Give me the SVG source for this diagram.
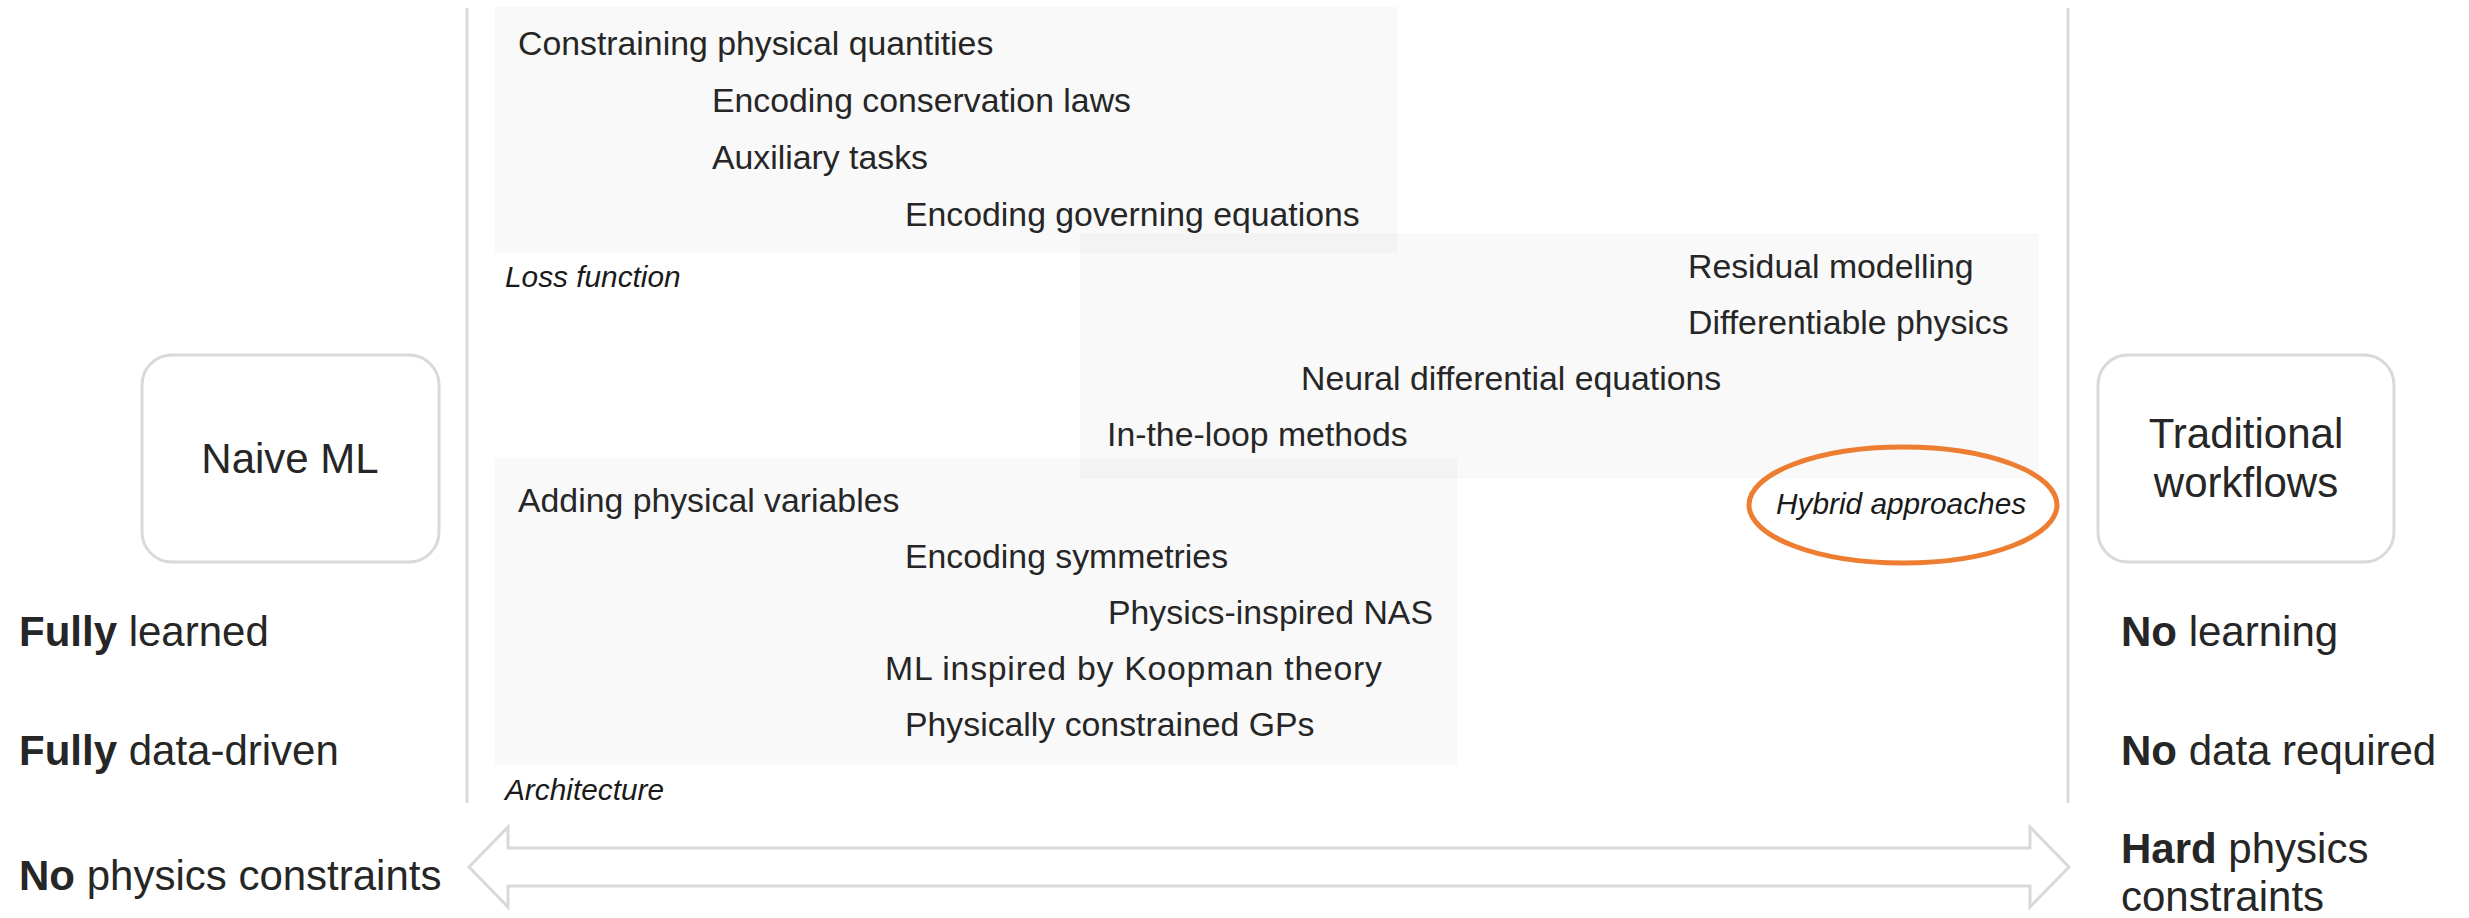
<svg xmlns="http://www.w3.org/2000/svg" width="2469" height="918" viewBox="0 0 2469 918">
<style>
text { font-family: "Liberation Sans", Arial, Helvetica, sans-serif; fill: #262626; }
.item { font-size: 33.8px; }
.cat { font-size: 29.8px; font-style: italic; fill: #1a1a1a; }
.lbl { font-size: 42px; }
.lbl tspan.b { font-weight: bold; }
.node { font-size: 42px; }
.region { fill: #000; fill-opacity: 0.025; stroke: none; }
.frame { fill: #fff; stroke: #d9d9d9; stroke-width: 3; }
.axis { stroke: #d9d9d9; stroke-width: 3; fill: none; }
</style>
<rect width="2469" height="918" fill="#fff"/>

<g id="axes">
  <line class="axis" x1="467" y1="8" x2="467" y2="803"/>
  <line class="axis" x1="2068" y1="8" x2="2068" y2="803"/>
</g>

<g id="loss-function">
  <rect class="region" x="495" y="7" width="903" height="246"/>
  <text class="item" x="518" y="55">Constraining physical quantities</text>
  <text class="item" x="712" y="112">Encoding conservation laws</text>
  <text class="item" x="712" y="169">Auxiliary tasks</text>
  <text class="item" x="905" y="226">Encoding governing equations</text>
  <text class="cat" x="505" y="287">Loss function</text>
</g>

<g id="hybrid">
  <rect class="region" x="1080" y="233" width="959" height="246"/>
  <text class="item" x="1688" y="278">Residual modelling</text>
  <text class="item" x="1688" y="334">Differentiable physics</text>
  <text class="item" x="1301" y="390">Neural differential equations</text>
  <text class="item" x="1107" y="446">In-the-loop methods</text>
  <ellipse cx="1903" cy="505" rx="154" ry="58" fill="none" stroke="#ED7D31" stroke-width="5"/>
  <text class="cat" x="1776" y="514">Hybrid approaches</text>
</g>

<g id="architecture">
  <rect class="region" x="495" y="458" width="962" height="307"/>
  <text class="item" x="518" y="512">Adding physical variables</text>
  <text class="item" x="905" y="568">Encoding symmetries</text>
  <text class="item" x="1108" y="624">Physics-inspired NAS</text>
  <text class="item" x="885" y="680" textLength="497">ML inspired by Koopman theory</text>
  <text class="item" x="905" y="736">Physically constrained GPs</text>
  <text class="cat" x="505" y="800">Architecture</text>
</g>

<g id="naive-ml">
  <rect class="frame" x="142" y="355" width="297" height="207" rx="30"/>
  <text class="node" x="290" y="473" text-anchor="middle">Naive ML</text>
</g>

<g id="traditional-workflows">
  <rect class="frame" x="2098" y="355" width="296" height="207" rx="30"/>
  <text class="node" x="2246" y="448" text-anchor="middle">Traditional</text>
  <text class="node" x="2246" y="497" text-anchor="middle">workflows</text>
</g>

<g id="left-labels">
  <text class="lbl" x="19" y="646"><tspan class="b">Fully</tspan> learned</text>
  <text class="lbl" x="19" y="765"><tspan class="b">Fully</tspan> data-driven</text>
  <text class="lbl" x="19" y="890"><tspan class="b">No</tspan> physics constraints</text>
</g>

<g id="right-labels">
  <text class="lbl" x="2121" y="863"><tspan class="b">Hard</tspan> physics</text>
  <text class="lbl" x="2121" y="646"><tspan class="b">No</tspan> learning</text>
  <text class="lbl" x="2121" y="765"><tspan class="b">No</tspan> data required</text>
  <text class="lbl" x="2121" y="911">constraints</text>
</g>

<g id="connectors">
  <polygon class="frame" points="469,867 508,827 508,848 2030,848 2030,827 2069,867 2030,907 2030,886 508,886 508,907"/>
</g>
</svg>
